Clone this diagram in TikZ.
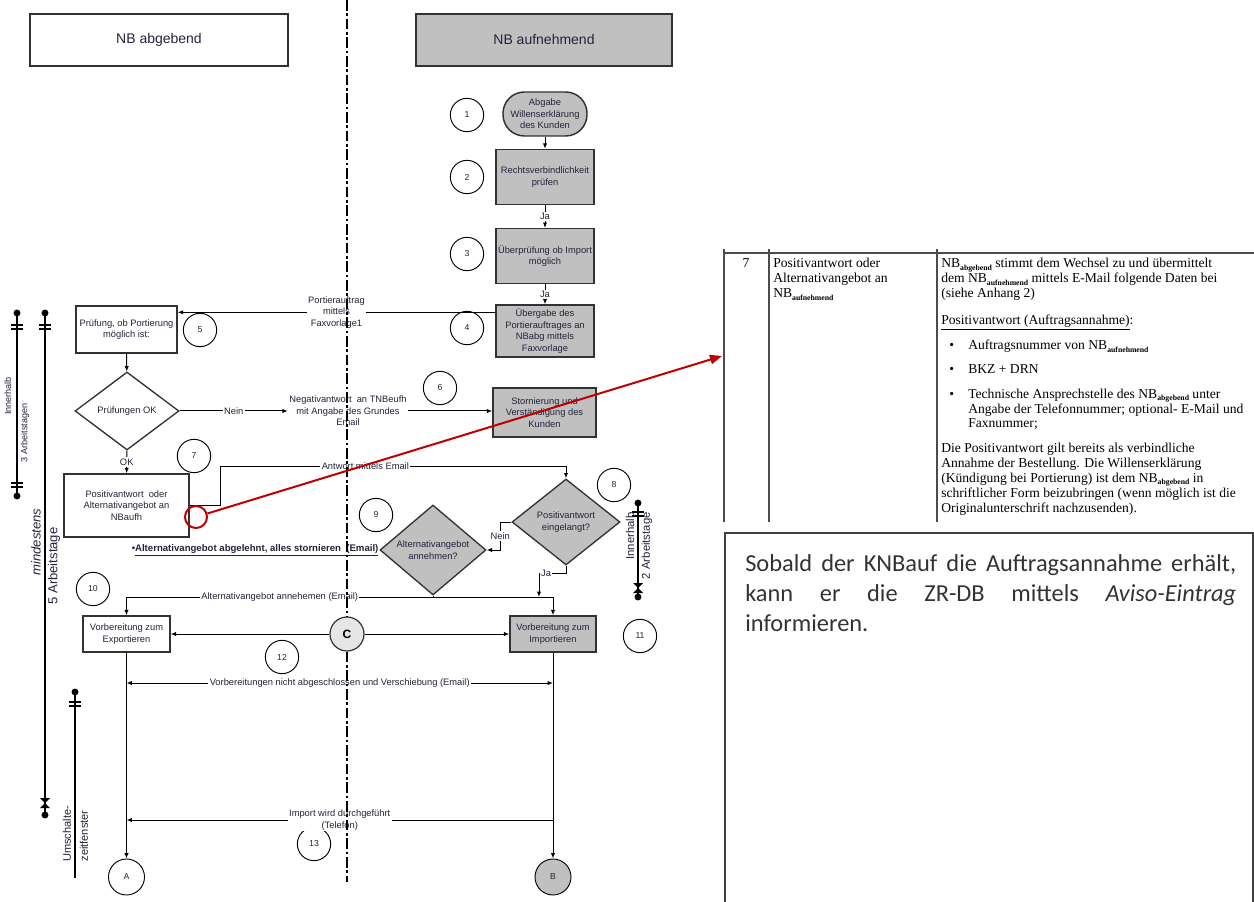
\documentclass[tikz,border=0pt]{standalone}
\usepackage{fontspec}
\setmainfont{Liberation Serif}
\setsansfont{Liberation Sans}
\newfontfamily\calib{Carlito}
\usetikzlibrary{arrows.meta,shapes.geometric,calc}
\definecolor{grayf}{RGB}{192,192,192}
\definecolor{boxc}{RGB}{50,50,50}
\definecolor{txtc}{RGB}{35,35,60}
\definecolor{redc}{RGB}{192,0,0}
\definecolor{cfill}{RGB}{230,230,230}
\newcommand\sbx[1]{\raisebox{-1.7pt}{\fontsize{5.8}{5}\selectfont\bfseries #1}}
\newcommand\dtick[2]{\draw[tick] (#1-6,#2-2) -- (#1+6,#2-2); \draw[tick] (#1-6,#2+2) -- (#1+6,#2+2);}
\newcommand\hglass[2]{\fill (#1-5,#2-5) -- (#1+5,#2-5) -- (#1,#2) -- cycle; \fill (#1-5,#2+5) -- (#1+5,#2+5) -- (#1,#2) -- cycle;}
\newcommand\bdot[2]{\fill (#1,#2) circle (2.6pt);}
\tikzset{
 dtxt/.style={font=\sffamily\fontsize{7}{8.6}\selectfont, text=txtc},
 box/.style={draw=boxc, line width=1.1pt, fill=white, align=center, dtxt, inner sep=1pt},
 gbox/.style={box, fill=grayf},
 hdr/.style={draw=boxc, line width=1.2pt, font=\sffamily\fontsize{10.5}{12}\selectfont, text=txtc, minimum height=39pt},
 dia/.style={diamond, draw=boxc, line width=1pt, fill=white, inner sep=0pt},
 num/.style={circle, draw=black, line width=0.7pt, minimum size=25pt, inner sep=0pt, font=\sffamily\fontsize{6.5}{7}\selectfont, text=txtc},
 lbl/.style={fill=white, inner sep=1pt, align=center, dtxt},
 conn/.style={draw=black, line width=0.75pt},
 arr/.style={conn, -{Latex[length=4pt,width=3.2pt]}},
 darr/.style={conn, {Latex[length=4pt,width=3.2pt]}-{Latex[length=4pt,width=3.2pt]}},
 dashdotline/.style={draw=black, line width=1.1pt, dash pattern=on 8pt off 2pt on 2pt off 2pt},
 bar/.style={line width=2.2pt, black},
 tick/.style={line width=1.1pt, black},
 bartxt/.style={font=\sffamily\fontsize{6.8}{8}\selectfont, text=txtc, inner sep=0pt},
 tabtxt/.style={font=\fontsize{10.2}{11.2}\selectfont, text=black, inner sep=0pt, anchor=base west},
 tabline/.style={draw=black!70, line width=0.8pt},
}
\begin{document}
\begin{tikzpicture}[x=0.75pt,y=-0.75pt]
\useasboundingbox (0,0) rectangle (1254,902);
% headers
\node[hdr, minimum width=193.5pt] (hA) at (159,40) {NB abgebend};
\node[hdr, fill=grayf, minimum width=192pt] (hB) at (544,40) {NB aufnehmend};
% process nodes
\node[gbox, rounded corners=16pt, minimum width=63pt, minimum height=33pt] (s1) at (545,114) {Abgabe\\Willenserklärung\\des Kunden};
\node[gbox, minimum width=73.5pt, minimum height=41.25pt] (b2) at (545,177) {Rechtsverbindlichkeit\\prüfen};
\node[gbox, minimum width=73.5pt, minimum height=41pt] (b3) at (545,256) {Überprüfung ob Import\\möglich};
\node[gbox, minimum width=73.5pt, minimum height=39pt] (b4) at (545,331) {Übergabe des\\Portierauftrages an\\NBabg mittels\\Faxvorlage};
\node[box, minimum width=75.75pt, minimum height=35.25pt] (b5) at (126.5,329.5) {Prüfung, ob Portierung\\möglich ist:};
\node[dia, minimum width=78pt, minimum height=58.5pt] (dok) at (127,411) {};
\node[dtxt] (dokt) at (dok) {Prüfungen OK};
\node[gbox, minimum width=77.25pt, minimum height=36.75pt] (b6) at (544.5,412.5) {Stornierung und\\Verständigung des\\Kunden};
\node[box, minimum width=93.75pt, minimum height=47.25pt] (b7) at (126.5,505.5) {Positivantwort~ oder\\Alternativangebot an\\NBaufh};
\node[dia, fill=grayf, minimum width=81pt, minimum height=64.5pt] (d8) at (566,522) {};
\node[dtxt, align=center] (d8t) at (d8) {Positivantwort\\eingelangt?};
\node[dia, fill=grayf, minimum width=79.5pt, minimum height=67.5pt] (d9) at (433,550) {};
\node[dtxt, align=center] (d9t) at (d9) {Alternativangebot\\annehmen?};
\node[box, minimum width=65.25pt, minimum height=27pt] (b10) at (126.5,634) {Vorbereitung zum\\Exportieren};
\node[gbox, minimum width=64.5pt, minimum height=27pt] (b11) at (553,634) {Vorbereitung zum\\Importieren};
\node[circle, draw=boxc, line width=0.9pt, fill=cfill, minimum size=25.5pt, inner sep=0pt, font=\sffamily\bfseries\fontsize{9}{10}\selectfont] (C) at (347,634) {C};
\node[num, minimum size=27pt] (A) at (126.5,877) {A};
\node[num, minimum size=27pt, fill=grayf] (B) at (553,877) {B};
% number circles
\node[num] (n1) at (467,115) {1};
\node[num] (n2) at (467,177) {2};
\node[num] (n3) at (467,254) {3};
\node[num] (n4) at (467,328) {4};
\node[num] (n5) at (200,330) {5};
\node[num] (n6) at (440,388) {6};
\node[num] (n7) at (194,456) {7};
\node[num] (n8) at (614,485) {8};
\node[num] (n9) at (376,515) {9};
\node[num] (n10) at (93,589) {10};
\node[num] (n11) at (640,636) {11};
\node[num] (n12) at (282,657) {12};
\node[num] (n13) at (314,844) {13};
% connectors
\draw[arr] (s1) -- (b2);
\draw[arr] (b2) -- node[lbl]{Ja} (b3);
\draw[arr] (b3) -- node[lbl]{Ja} (b4);
\draw[arr] ([yshift=-6pt]b4.north west) -- node[lbl]{Portierauftrag\\mittels\\Faxvorlage1} ([yshift=-6pt]b4.north west -| b5.east);
\draw[arr] (b5) -- (dok);
\node[lbl] (neg) at (348,411) {Negativantwort~ an TNBeufh\\mit Angabe des Grundes\\Email};
\draw[arr] (dok.east) -- node[lbl]{Nein} (neg.west |- dok.east);
\draw[arr] (neg.east) -- (neg.east -| b6.west);
\draw[arr] (dok) -- node[lbl]{OK} (b7);
\coordinate (k7) at (220,466);
\draw[arr] (b7.east) -| (k7) -- node[lbl, pos=0.42]{Antwort mittels Email} (k7 -| d8.north) -- (d8.north);
\draw[arr] (d8.west) -- ++(-11,0) |- node[lbl, pos=0.25]{Nein} (d9.east);
\node[dtxt, anchor=east, inner sep=0.5pt, font=\sffamily\bfseries\fontsize{7.2}{8.6}\selectfont] (abl) at (d9.west) {•\underline{Alternativangebot abgelehnt, alles stornieren~ (Email)}};
\coordinate (jaC) at (539,573);
\coordinate (hl) at (433,597);
\draw[arr] (d8.south) |- node[lbl, pos=0.87]{Ja} (jaC) -- (jaC |- hl);
\draw[conn] (d9.south) -- (hl);
\draw[arr] (hl) -| node[lbl, pos=0.25]{Alternativangebot annehemen (Email)} (b10.north);
\draw[arr] (hl) -| (b11.north);
\draw[arr] (C) -- (b10);
\draw[arr] (C) -- (b11);
\draw[arr] (b10) -- (A);
\draw[arr] (b11) -- (B);
\coordinate (y683) at (0,683);
\coordinate (y820) at (0,820);
\draw[darr] (b10.south |- y683) -- node[lbl]{Vorbereitungen nicht abgeschlossen und Verschiebung (Email)} (b11.south |- y683);
\draw[arr] (b11.south |- y820) -- node[lbl]{Import wird durchgeführt\\(Telefon)} (b10.south |- y820);
% swimlane divider
\coordinate (dtop) at (347,0);
\coordinate (dbot) at (347,882);
\draw[dashdotline] (dtop) -- (C.north);
\draw[dashdotline] (C.south) -- (dbot);
% time bars
\draw[bar] (17,313) -- (17,496); \bdot{17}{313} \bdot{17}{496} \dtick{17}{327} \dtick{17}{485}
\draw[bar] (45,313) -- (45,815); \bdot{45}{313} \bdot{45}{815} \dtick{45}{327} \hglass{45}{803}
\draw[bar] (75,692) -- (75,878); \bdot{75}{692} \dtick{75}{704}
\draw[bar] (638,503) -- (638,597); \bdot{638}{503} \bdot{638}{597} \dtick{638}{514} \hglass{638}{588}
\node[bartxt, rotate=90] (bt1a) at (8,396) {Innerhalb};
\node[bartxt, rotate=90] (bt1b) at (25,433) {3 Arbeitstagen};
\node[bartxt, rotate=90, font=\sffamily\itshape\fontsize{9.8}{10}\selectfont] (bt2a) at (36,542) {mindestens};
\node[bartxt, rotate=90, font=\sffamily\fontsize{9.8}{10}\selectfont] (bt2b) at (54,566) {5 Arbeitstage};
\node[bartxt, rotate=90, font=\sffamily\fontsize{8.3}{10}\selectfont] (bt3a) at (67,834) {Umschalte-};
\node[bartxt, rotate=90, font=\sffamily\fontsize{8.3}{10}\selectfont] (bt3b) at (84,836) {zeitfenster};
\node[bartxt, rotate=90, anchor=east, font=\sffamily\fontsize{8.5}{10}\selectfont] (bt4a) at (630,512) {Innerhalb};
\node[bartxt, rotate=90, anchor=east, font=\sffamily\fontsize{8.5}{10}\selectfont] (bt4b) at (647,512) {2 Arbeitstage};
% table
\draw[tabline] (724,253) -- (1254,253);
\draw[tabline] (724,249) -- (724,522);
\draw[tabline] (769,249) -- (769,522);
\draw[tabline] (937,249) -- (937,522);
\node[tabtxt, anchor=base] (c1) at (746,268) {7};
\node[tabtxt] (c2a) at (773,268) {Positivantwort oder};
\node[tabtxt] (c2b) at (773,283) {Alternativangebot an};
\node[tabtxt] (c2c) at (773,298) {NB\sbx{aufnehmend}};
\node[tabtxt] (c3a) at (941,268) {NB\sbx{abgebend} stimmt dem Wechsel zu und übermittelt};
\node[tabtxt] (c3b) at (941,283) {dem NB\sbx{aufnehmend} mittels E-Mail folgende Daten bei};
\node[tabtxt] (c3c) at (941,298) {(siehe Anhang 2)};
\node[tabtxt] (c3d) at (941,324.5) {\underline{Positivantwort (Auftragsannahme)}:};
\node[tabtxt] (u1) at (949,350) {•};
\node[tabtxt] (c3e) at (968,350) {Auftragsnummer von NB\sbx{aufnehmend}};
\node[tabtxt] (u2) at (949,374) {•};
\node[tabtxt] (c3f) at (968,374) {BKZ + DRN};
\node[tabtxt] (u3) at (949,398) {•};
\node[tabtxt] (c3g) at (968,398) {Technische Ansprechstelle des NB\sbx{abgebend} unter};
\node[tabtxt] (c3h) at (968,413) {Angabe der Telefonnummer; optional- E-Mail und};
\node[tabtxt] (c3i) at (968,428) {Faxnummer;};
\node[tabtxt] (c3j) at (941,452) {Die Positivantwort gilt bereits als verbindliche};
\node[tabtxt] (c3k) at (941,467) {Annahme der Bestellung. Die Willenserklärung};
\node[tabtxt] (c3l) at (941,482) {(Kündigung bei Portierung) ist dem NB\sbx{abgebend} in};
\node[tabtxt] (c3m) at (941,497) {schriftlicher Form beizubringen (wenn möglich ist die};
\node[tabtxt] (c3n) at (941,512) {Originalunterschrift nachzusenden).};
% note box
\draw[draw=black!75, line width=1pt] (725,533) rectangle (1253,906);
\node[anchor=north west, text width=368.25pt, inner sep=0pt, align=justify, font=\calib\fontsize{18.3}{22.5}\selectfont, text=black!80] (tb) at (745,554) {Sobald der KNBauf die Auftragsannahme erhält,\linebreak kann er die ZR-DB mittels \textit{Aviso-Eintrag}\linebreak informieren.};
% red pointer
\node[circle, draw=redc, line width=1.5pt, minimum size=16.5pt, inner sep=0pt] (rc) at (196,517) {};
\coordinate (rt) at (722,356);
\draw[redc, line width=1.5pt, -{Triangle[length=9pt,width=7pt]}] (rc) -- (rt);
\end{tikzpicture}
\end{document}
